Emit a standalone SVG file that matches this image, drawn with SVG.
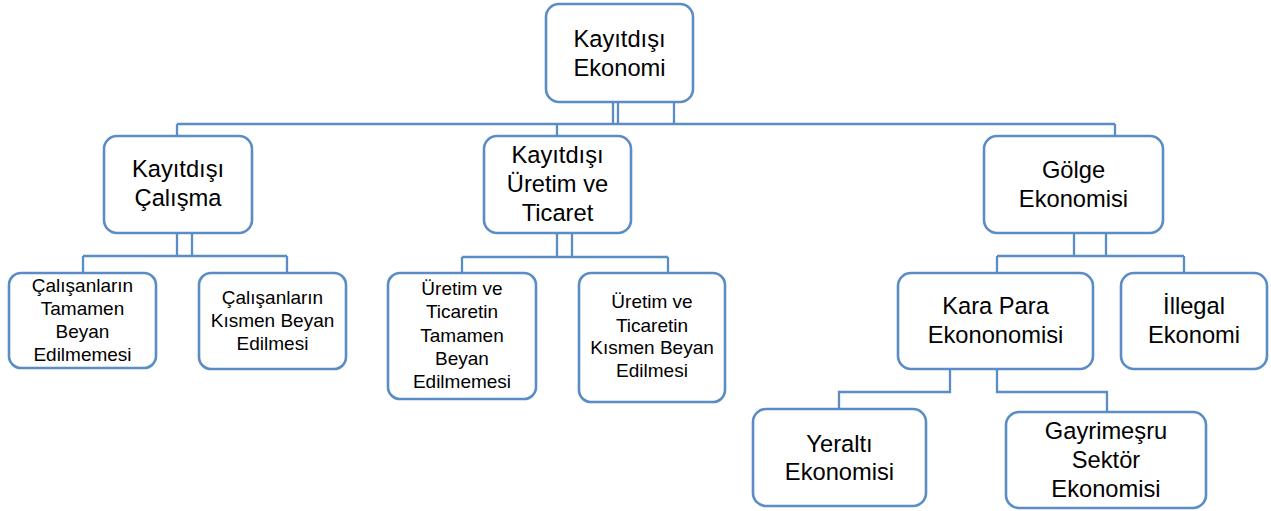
<svg xmlns="http://www.w3.org/2000/svg" width="1271" height="511" viewBox="0 0 1271 511">
<style>
.box{fill:#fff;stroke:#5A8CC6;stroke-width:2.6}
.ln{fill:none;stroke:#5A8CC6;stroke-width:2.3}
text{font-family:"Liberation Sans",Arial,sans-serif;fill:#000;text-anchor:middle}
.L{font-size:23.7px}
.S{font-size:19px}
</style>
<rect width="1271" height="511" fill="#fff"/>
<g id="connectors">
<path class="ln" d="M613,102V124M618,102V124M674,102V124M177,124H1115M177,124V136M557,124V136M1115,124V136"/>
<path class="ln" d="M177,233V256M192,233V256M83,256H287M83,256V273M287,256V273"/>
<path class="ln" d="M557,233V257M572,233V257M462,257H668M462,257V273M668,257V273"/>
<path class="ln" d="M1074,233V256M1106,233V256M997,256H1184M997,256V273M1184,256V273"/>
<path class="ln" d="M950,369V392H839V409M997,369V392H1107V412"/>
</g>
<g id="n-kayitdisi-ekonomi">
<rect class="box" x="546" y="4" width="147" height="98" rx="13"/>
<text class="L" x="619.5" y="47">Kayıtdışı</text>
<text class="L" x="619.5" y="76">Ekonomi</text>
</g>
<g id="n-kayitdisi-calisma">
<rect class="box" x="104" y="136" width="148" height="97" rx="13"/>
<text class="L" x="178" y="177">Kayıtdışı</text>
<text class="L" x="178" y="206">Çalışma</text>
</g>
<g id="n-kayitdisi-uretim">
<rect class="box" x="484" y="136" width="147" height="97" rx="13"/>
<text class="L" x="557.5" y="163">Kayıtdışı</text>
<text class="L" x="557.5" y="192">Üretim ve</text>
<text class="L" x="557.5" y="221">Ticaret</text>
</g>
<g id="n-golge">
<rect class="box" x="984" y="136" width="179" height="97" rx="13"/>
<text class="L" x="1073.5" y="178">Gölge</text>
<text class="L" x="1073.5" y="207">Ekonomisi</text>
</g>
<g id="n-calisan-tamamen">
<rect class="box" x="9" y="273" width="147" height="95" rx="12"/>
<text class="S" x="82.5" y="292">Çalışanların</text>
<text class="S" x="82.5" y="315">Tamamen</text>
<text class="S" x="82.5" y="338">Beyan</text>
<text class="S" x="82.5" y="361">Edilmemesi</text>
</g>
<g id="n-calisan-kismen">
<rect class="box" x="199" y="273" width="147" height="96" rx="12"/>
<text class="S" x="272.5" y="304">Çalışanların</text>
<text class="S" x="272.5" y="327">Kısmen Beyan</text>
<text class="S" x="272.5" y="350">Edilmesi</text>
</g>
<g id="n-uretim-tamamen">
<rect class="box" x="388" y="273" width="148" height="126" rx="12"/>
<text class="S" x="462" y="295">Üretim ve</text>
<text class="S" x="462" y="318">Ticaretin</text>
<text class="S" x="462" y="342">Tamamen</text>
<text class="S" x="462" y="365">Beyan</text>
<text class="S" x="462" y="388">Edilmemesi</text>
</g>
<g id="n-uretim-kismen">
<rect class="box" x="579" y="273" width="146" height="129" rx="12"/>
<text class="S" x="652" y="308">Üretim ve</text>
<text class="S" x="652" y="332">Ticaretin</text>
<text class="S" x="652" y="354">Kısmen Beyan</text>
<text class="S" x="652" y="377">Edilmesi</text>
</g>
<g id="n-kara-para">
<rect class="box" x="898" y="273" width="195" height="96" rx="13"/>
<text class="L" x="995.5" y="314">Kara Para</text>
<text class="L" x="995.5" y="343">Ekononomisi</text>
</g>
<g id="n-illegal">
<rect class="box" x="1121" y="273" width="146" height="96" rx="13"/>
<text class="L" x="1194" y="314">İllegal</text>
<text class="L" x="1194" y="343">Ekonomi</text>
</g>
<g id="n-yeralti">
<rect class="box" x="753" y="409" width="173" height="97" rx="13"/>
<text class="L" x="839.5" y="452">Yeraltı</text>
<text class="L" x="839.5" y="480">Ekonomisi</text>
</g>
<g id="n-gayrimesru">
<rect class="box" x="1006" y="412" width="200" height="96" rx="13"/>
<text class="L" x="1106" y="439">Gayrimeşru</text>
<text class="L" x="1106" y="468">Sektör</text>
<text class="L" x="1106" y="497">Ekonomisi</text>
</g>
</svg>
